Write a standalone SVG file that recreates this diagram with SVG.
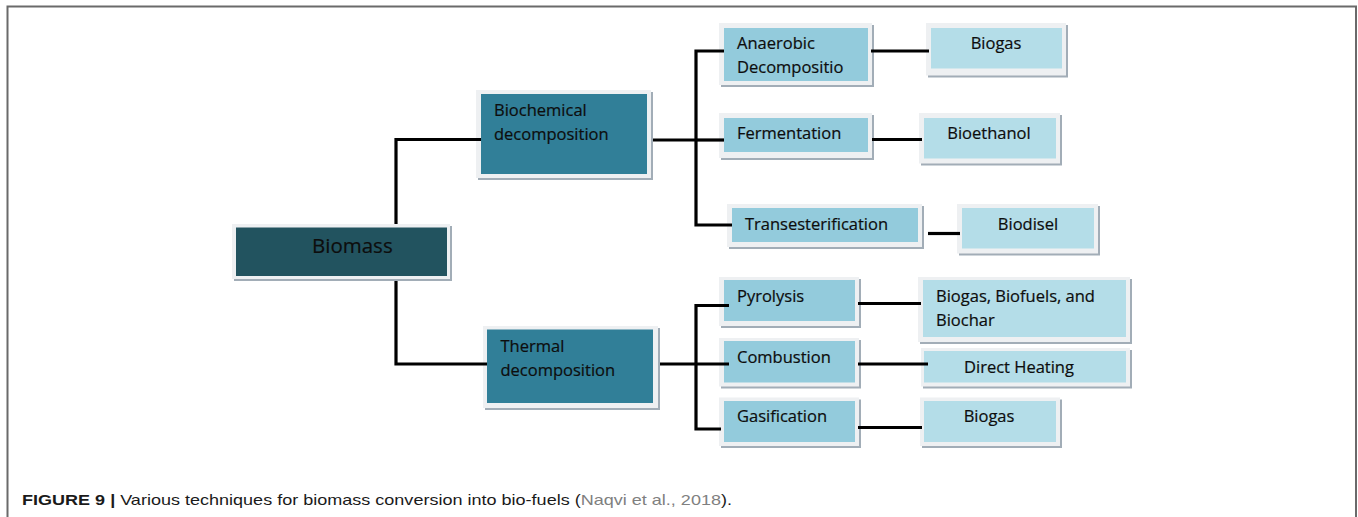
<svg xmlns="http://www.w3.org/2000/svg" width="1358" height="517" viewBox="0 0 1358 517">
<style>
.sh{fill:#a2adb7}
.fr{fill:#eef0f2}
.n0{fill:#22535f}
.n1{fill:#317f98}
.n2{fill:#93cbdc}
.n3{fill:#b4dde8}
.t{font-family:"Open Sans","Noto Sans","DejaVu Sans",sans-serif;font-size:16.5px;fill:#0d0d0d;stroke:#0d0d0d;stroke-width:0.2}
.tc{text-anchor:middle}
.conn path{stroke:#000;stroke-width:3.2;fill:none;stroke-linejoin:miter}
.cap{font-family:"Liberation Sans Narrow","Liberation Sans",Arial,sans-serif;font-size:15px;fill:#1a1a1a}
</style>
<rect width="1358" height="517" fill="#fff"/>
<path d="M7.5,517 V6.5 H1356 V517" fill="none" stroke="#6a6a6a" stroke-width="2"/>

<g id="biomass">
<rect class="sh" x="234" y="226" width="218" height="55"/>
<rect class="fr" x="232" y="224" width="218" height="55"/>
<rect class="n0" x="236" y="227.5" width="211" height="48.5"/>
<text class="t" x="312" y="253" style="font-size:20.5px">Biomass</text>
</g>

<g id="biochemical">
<rect class="sh" x="478" y="92" width="175" height="88"/>
<rect class="fr" x="476" y="90" width="175" height="88"/>
<rect class="n1" x="481" y="94" width="166" height="80"/>
<text class="t" x="494" y="116">Biochemical</text>
<text class="t" x="494" y="140">decomposition</text>
</g>

<g id="thermal">
<rect class="sh" x="485" y="328" width="175" height="82"/>
<rect class="fr" x="483" y="326" width="175" height="82"/>
<rect class="n1" x="487" y="329.5" width="166" height="73.5"/>
<text class="t" x="500.5" y="352">Thermal</text>
<text class="t" x="500.5" y="376">decomposition</text>
</g>

<g id="anaerobic">
<rect class="sh" x="721" y="25" width="153" height="62"/>
<rect class="fr" x="719" y="23" width="153" height="62"/>
<rect class="n2" x="724" y="28" width="144" height="53"/>
<text class="t" x="737" y="49">Anaerobic</text>
<text class="t" x="737" y="72.5">Decompositio</text>
</g>

<g id="fermentation">
<rect class="sh" x="721" y="115" width="153" height="45"/>
<rect class="fr" x="719" y="113" width="153" height="45"/>
<rect class="n2" x="724" y="118" width="144" height="34"/>
<text class="t" x="737" y="139">Fermentation</text>
</g>

<g id="transesterification">
<rect class="sh" x="729" y="206" width="195" height="43"/>
<rect class="fr" x="727" y="204" width="195" height="43"/>
<rect class="n2" x="732" y="208" width="186" height="34"/>
<text class="t" x="745" y="230">Transesterification</text>
</g>

<g id="pyrolysis">
<rect class="sh" x="721" y="279" width="140" height="49"/>
<rect class="fr" x="719" y="277" width="140" height="49"/>
<rect class="n2" x="724" y="280" width="131" height="41"/>
<text class="t" x="737" y="301.5">Pyrolysis</text>
</g>

<g id="combustion">
<rect class="sh" x="721" y="340" width="140" height="48.5"/>
<rect class="fr" x="719" y="338" width="140" height="48.5"/>
<rect class="n2" x="724" y="341" width="131" height="41.5"/>
<text class="t" x="737" y="362.5">Combustion</text>
</g>

<g id="gasification">
<rect class="sh" x="721" y="399.5" width="140" height="48.5"/>
<rect class="fr" x="719" y="397.5" width="140" height="48.5"/>
<rect class="n2" x="724" y="401" width="131" height="41"/>
<text class="t" x="737" y="421.5">Gasification</text>
</g>

<g id="biogas1">
<rect class="sh" x="928" y="25" width="140" height="52.5"/>
<rect class="fr" x="926" y="23" width="140" height="52.5"/>
<rect class="n3" x="931" y="28" width="131" height="40.5"/>
<text class="t tc" x="996" y="49">Biogas</text>
</g>

<g id="bioethanol">
<rect class="sh" x="921" y="115" width="141" height="50.5"/>
<rect class="fr" x="919" y="113" width="141" height="50.5"/>
<rect class="n3" x="924" y="118" width="132" height="40.5"/>
<text class="t tc" x="989" y="139">Bioethanol</text>
</g>

<g id="biodisel">
<rect class="sh" x="959" y="206" width="141" height="49.5"/>
<rect class="fr" x="957" y="204" width="141" height="49.5"/>
<rect class="n3" x="962" y="208" width="132" height="40.5"/>
<text class="t tc" x="1028" y="230">Biodisel</text>
</g>

<g id="biofuels">
<rect class="sh" x="920" y="279" width="212" height="65"/>
<rect class="fr" x="918" y="277" width="212" height="65"/>
<rect class="n3" x="923" y="280" width="203" height="57"/>
<text class="t" x="936" y="301.5">Biogas, Biofuels, and</text>
<text class="t" x="936" y="325.5">Biochar</text>
</g>

<g id="heating">
<rect class="sh" x="923" y="350" width="209" height="38.5"/>
<rect class="fr" x="921" y="348" width="209" height="38.5"/>
<rect class="n3" x="924" y="351" width="202" height="31.5"/>
<text class="t" x="964" y="372.5">Direct Heating</text>
</g>

<g id="biogas2">
<rect class="sh" x="922" y="399.5" width="140" height="48.5"/>
<rect class="fr" x="920" y="397.5" width="140" height="48.5"/>
<rect class="n3" x="924" y="401" width="132" height="41"/>
<text class="t tc" x="989" y="421.5">Biogas</text>
</g>

<g class="conn" id="connectors">
<path d="M396,224 V139.5 H481"/>
<path d="M396,281 V364 H487"/>
<path d="M653,140 H696"/>
<path d="M724,51 H696 V225 H732"/>
<path d="M696,140 H724"/>
<path d="M871,51 H929"/>
<path d="M872,139.5 H922"/>
<path d="M928,233.5 H960"/>
<path d="M660,364 H696"/>
<path d="M729,305.5 H696 V429 H721"/>
<path d="M696,364 H729"/>
<path d="M858,303.5 H921"/>
<path d="M858,364 H928"/>
<path d="M858,427.5 H922"/>
</g>

<text class="cap" x="22" y="504.5" textLength="710" lengthAdjust="spacingAndGlyphs"><tspan font-weight="bold">FIGURE 9 |</tspan> Various techniques for biomass conversion into bio-fuels (<tspan fill="#808080">Naqvi et al., 2018</tspan>).</text>
</svg>
